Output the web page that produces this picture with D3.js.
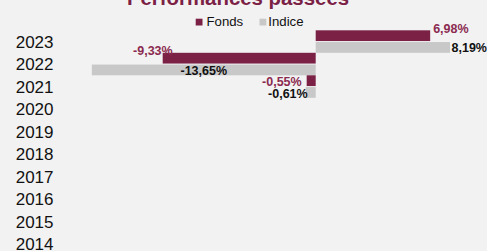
<!DOCTYPE html>
<html>
<head>
<meta charset="utf-8">
<script src="https://cdn.jsdelivr.net/npm/d3@7"></script>
<style>
  html, body { margin: 0; padding: 0; background: #f2f2f2; }
  svg { display: block; font-family: "Liberation Sans", Arial, sans-serif; }
</style>
</head>
<body>
<svg id="chart" width="487" height="251"></svg>
<script>
// ---- data ----
const years = ["2023", "2022", "2021", "2020", "2019", "2018", "2017", "2016", "2015", "2014"];
const seriesNames = ["Fonds", "Indice"];
const fondsValues = [6.98, -9.33, -0.55, null, null, null, null, null, null, null];
const indiceValues = [8.19, -13.65, -0.61, null, null, null, null, null, null, null];
const title = "Performances passées";

// ---- styles ----
const colors = { Fonds: "#7b2145", Indice: "#c8c8c8" };
const labelColors = { Fonds: "#8b2a50", Indice: "#111111" };

const svg = d3.select("#chart");
const W = 487, H = 251;

svg.append("rect").attr("width", W).attr("height", H).attr("fill", "#f2f2f2");

const x = d3.scaleLinear().domain([-15, 10]).range([69.7, 479.7]);
const y = d3.scaleBand().domain(years).range([30.3, 255.3]).padding(0);
const ySub = d3.scaleBand().domain(seriesNames).range([0, y.bandwidth()]).padding(0);

const rows = [];
years.forEach((yr, i) => {
  rows.push({ year: yr, series: "Fonds", value: fondsValues[i] });
  rows.push({ year: yr, series: "Indice", value: indiceValues[i] });
});
const data = rows.filter(d => d.value !== null);

// bars
svg.append("g").selectAll("rect").data(data).join("rect")
  .attr("x", d => x(Math.min(0, d.value)))
  .attr("width", d => Math.abs(x(d.value) - x(0)))
  .attr("y", d => y(d.year) + ySub(d.series) + (d.series === "Indice" ? 0.5 : 0))
  .attr("height", d => ySub.bandwidth() - 0.5)
  .attr("fill", d => colors[d.series]);

// year axis labels
svg.append("g").selectAll("text").data(years).join("text")
  .attr("x", 53.5)
  .attr("y", d => y(d) + y.bandwidth() / 2 + 6.1)
  .attr("text-anchor", "end")
  .attr("font-size", 17)
  .attr("fill", "#111")
  .text(d => d);

// value labels (placement mimicking the reference)
const fmt = v => v.toFixed(2).replace(".", ",") + "%";
function labelPos(d) {
  const top = y(d.year) + ySub(d.series);
  const bot = top + ySub.bandwidth();
  const end = x(d.value), zero = x(0);
  if (d.value >= 0) {
    if (d.series === "Fonds") return { x: end + 3, y: top + 3, anchor: "start" };
    return { x: end + 1.5, y: bot - 0.8, anchor: "start" };
  }
  const len = Math.abs(end - zero);
  if (len > 200) return { x: (end + zero) / 2, y: bot, anchor: "middle" };
  if (len > 100) return { x: end + 10, y: top + 2.2, anchor: "end" };
  if (d.series === "Fonds") return { x: end - 5, y: bot - 0.3, anchor: "end" };
  return { x: end + 2, y: bot, anchor: "end" };
}
svg.append("g").selectAll("text").data(data).join("text")
  .each(function (d) {
    const p = labelPos(d);
    d3.select(this).attr("x", p.x).attr("y", p.y).attr("text-anchor", p.anchor);
  })
  .attr("font-size", 12.5)
  .attr("font-weight", "bold")
  .attr("fill", d => labelColors[d.series])
  .text(d => fmt(d.value));

// legend
const legend = svg.append("g");
const legendItems = [
  { name: seriesNames[0], sx: 195.7, tx: 206.5 },
  { name: seriesNames[1], sx: 259.5, tx: 268.3 }
];
legend.selectAll("rect").data(legendItems).join("rect")
  .attr("x", d => d.sx).attr("y", 18.7)
  .attr("width", 6.8).attr("height", 6.8)
  .attr("fill", d => colors[d.name]);
legend.selectAll("text").data(legendItems).join("text")
  .attr("x", d => d.tx).attr("y", 25.6)
  .attr("font-size", 13.2)
  .attr("fill", "#111")
  .text(d => d.name);

// title (cut off at the top as in reference)
svg.append("text")
  .attr("x", 238).attr("y", 5)
  .attr("text-anchor", "middle")
  .attr("font-size", 20.4)
  .attr("font-weight", "bold")
  .attr("fill", "#7b2145")
  .text(title);
</script>
</body>
</html>
